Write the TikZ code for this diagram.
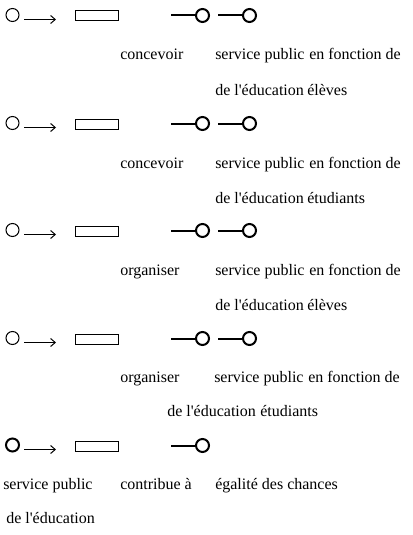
\documentclass[tikz,border=0pt]{standalone}
\usepackage{fontspec}
\setmainfont{Liberation Serif}
\usetikzlibrary{arrows.meta}
\tikzstyle{bulle} = [draw, circle, line width=0.75pt, minimum size=9.75pt, inner sep=0pt]
\tikzstyle{bullegras} = [draw, circle, line width=1.5pt, minimum size=9.75pt, inner sep=0pt]
\tikzstyle{boite} = [draw, rectangle, line width=0.75pt, minimum width=32.25pt, minimum height=7.5pt, inner sep=0pt]
\tikzstyle{fleche} = [-{Straight Barb[length=3.5pt, width=6pt]}, line width=0.75pt]
\tikzstyle{tige} = [line width=1.5pt]
\tikzstyle{mot} = [anchor=base west, inner sep=0pt, font=\fontsize{12}{14}\selectfont]

\begin{document}
\begin{tikzpicture}[x=0.75pt, y=-0.75pt]
		\useasboundingbox (0,0) rectangle (412,535);
		% ligne 1
		\node[bulle] (o1) at (12.5,15) {};
		\coordinate (f1a) at (24,19.5);
		\coordinate (f1b) at (56,19.5);
		\draw[fleche] (f1a) -- (f1b);
		\node[boite] (r1) at (96.5,16) {};
		\coordinate (t1a) at (171,15.5);
		\node[bullegras] (k1a) at (202.5,15.5) {};
		\coordinate (t1b) at (218,15.5);
		\node[bullegras] (k1b) at (249.5,15.5) {};
		\draw[tige] (t1a) -- (k1a);
		\draw[tige] (t1b) -- (k1b);
		\node[mot] (v1) at (120,60) {concevoir};
		\node[mot] (s1) at (215,60) {service public};
		\node[mot] (e1) at (309,60) {en fonction de};
		\node[mot] (d1) at (215,95) {de l\textquotesingle éducation};
		\node[mot] (p1) at (307,95) {élèves};
		% ligne 2
		\node[bulle] (o2) at (12.5,123) {};
		\coordinate (f2a) at (24,127.5);
		\coordinate (f2b) at (56,127.5);
		\draw[fleche] (f2a) -- (f2b);
		\node[boite] (r2) at (96.5,124) {};
		\coordinate (t2a) at (171,123.5);
		\node[bullegras] (k2a) at (202.5,123.5) {};
		\coordinate (t2b) at (218,123.5);
		\node[bullegras] (k2b) at (249.5,123.5) {};
		\draw[tige] (t2a) -- (k2a);
		\draw[tige] (t2b) -- (k2b);
		\node[mot] (v2) at (120,168) {concevoir};
		\node[mot] (s2) at (215,168) {service public};
		\node[mot] (e2) at (309,168) {en fonction de};
		\node[mot] (d2) at (215,203) {de l\textquotesingle éducation};
		\node[mot] (p2) at (307,203) {étudiants};
		% ligne 3
		\node[bulle] (o3) at (12.5,230) {};
		\coordinate (f3a) at (24,234.5);
		\coordinate (f3b) at (56,234.5);
		\draw[fleche] (f3a) -- (f3b);
		\node[boite] (r3) at (96.5,231) {};
		\coordinate (t3a) at (171,230.5);
		\node[bullegras] (k3a) at (202.5,230.5) {};
		\coordinate (t3b) at (218,230.5);
		\node[bullegras] (k3b) at (249.5,230.5) {};
		\draw[tige] (t3a) -- (k3a);
		\draw[tige] (t3b) -- (k3b);
		\node[mot] (v3) at (120,275) {organiser};
		\node[mot] (s3) at (215,275) {service public};
		\node[mot] (e3) at (309,275) {en fonction de};
		\node[mot] (d3) at (215,310) {de l\textquotesingle éducation};
		\node[mot] (p3) at (307,310) {élèves};
		% ligne 4
		\node[bulle] (o4) at (12.5,338) {};
		\coordinate (f4a) at (24,342.5);
		\coordinate (f4b) at (56,342.5);
		\draw[fleche] (f4a) -- (f4b);
		\node[boite] (r4) at (96.5,339) {};
		\coordinate (t4a) at (171,338.5);
		\node[bullegras] (k4a) at (202.5,338.5) {};
		\coordinate (t4b) at (218,338.5);
		\node[bullegras] (k4b) at (249.5,338.5) {};
		\draw[tige] (t4a) -- (k4a);
		\draw[tige] (t4b) -- (k4b);
		\node[mot] (v4) at (120,382) {organiser};
		\node[mot] (s4) at (214,382) {service public};
		\node[mot] (e4) at (308,382) {en fonction de};
		\node[mot] (d4) at (167,416) {de l\textquotesingle éducation};
		\node[mot] (p4) at (260,416) {étudiants};
		% ligne 5
		\node[bullegras] (o5) at (12.5,445) {};
		\coordinate (f5a) at (24,449.5);
		\coordinate (f5b) at (56,449.5);
		\draw[fleche] (f5a) -- (f5b);
		\node[boite] (r5) at (96.5,446) {};
		\coordinate (t5a) at (171,445.5);
		\node[bullegras] (k5a) at (202.5,445.5) {};
		\draw[tige] (t5a) -- (k5a);
		\node[mot] (s5) at (3,489) {service public};
		\node[mot] (v5) at (120,489) {contribue à};
		\node[mot] (g5) at (215,489) {égalité des chances};
		\node[mot] (d5) at (6,523) {de l\textquotesingle éducation};
	\end{tikzpicture}
\end{document}
